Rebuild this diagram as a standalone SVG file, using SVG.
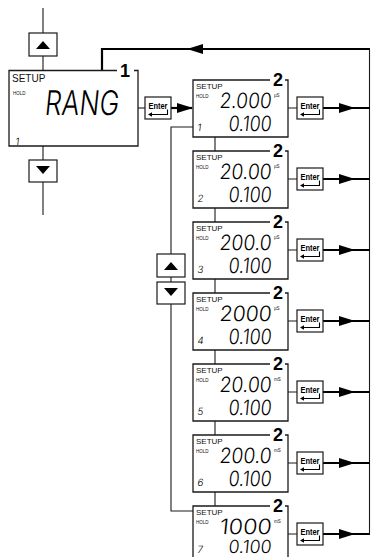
<svg xmlns="http://www.w3.org/2000/svg" xmlns:xlink="http://www.w3.org/1999/xlink" width="371" height="557" viewBox="0 0 371 557">
<style>
.frame{fill:#fff;stroke:#1a1a1a;stroke-width:1.3}
.line{fill:none;stroke:#1a1a1a;stroke-width:1.1}
.thick{fill:none;stroke:#000;stroke-width:2.2}
.btn{fill:#fff;stroke:#1a1a1a;stroke-width:1.2}
.tri{fill:#000}
.setup{font-family:"Liberation Sans",Arial,sans-serif;font-size:8px;fill:#111}
.setup1{font-family:"Liberation Sans",Arial,sans-serif;font-size:10px;fill:#111}
.hold{font-family:"Liberation Sans",Arial,sans-serif;font-size:4.5px;fill:#111}
.seg{font-family:Inter,"DejaVu Sans",sans-serif;font-weight:300;fill:#000}
.idx{font-family:Inter,"DejaVu Sans",sans-serif;font-weight:300;font-size:10px;fill:#000}
.num{font-family:"Liberation Sans",Arial,sans-serif;font-weight:bold;font-size:18px;fill:#000}
.enter{font-family:"Liberation Sans",Arial,sans-serif;font-weight:bold;font-size:8.5px;fill:#000}
.unit{font-family:"Liberation Sans",Arial,sans-serif;font-size:4.5px;fill:#111}
</style>
<defs>
<polygon id="arR" points="-8,-5 8,0 -8,5" fill="#000"/>
<polygon id="arL" points="8,-5 -8,0 8,5" fill="#000"/>
<g id="enterKey">
<rect class="btn" x="0" y="0" width="26" height="22"/>
<text class="enter" x="3.5" y="11.5" textLength="19" lengthAdjust="spacingAndGlyphs">Enter</text>
<path d="M22.5,12.5 V17.5 H6" fill="none" stroke="#000" stroke-width="1.1"/>
<polygon points="3,17.5 7,15.3 7,19.7" fill="#000"/>
</g>
</defs>
<rect width="371" height="557" fill="#fff"/>

<g id="connectors">
<path class="line" d="M43,8 V33 M43,56 V70 M43,146 V160 M43,182 V215"/>
<path class="line" d="M138,108 H145"/>
<path class="thick" d="M171,108 H192"/>
<use xlink:href="#arR" x="185" y="108"/>
<path class="thick" d="M102,70 V49 H370"/>
<use xlink:href="#arL" x="195" y="49"/>
<path class="line" d="M369.5,49 V534"/>
<path class="line" d="M193,127 H171 V511 H193"/>
<path class="line" d="M215,137 V151 M215,208 V222 M215,279 V293 M215,350 V364 M215,421 V435 M215,492 V506"/>
<path class="line" d="M288,108 H297 M288,179 H297 M288,250 H297 M288,321 H297 M288,392 H297 M288,463 H297 M288,534 H297"/>
<path class="thick" d="M323,108 H370 M323,179 H370 M323,250 H370 M323,321 H370 M323,392 H370 M323,463 H370 M323,534 H370"/>
<use xlink:href="#arR" x="347" y="108"/>
<use xlink:href="#arR" x="347" y="179"/>
<use xlink:href="#arR" x="347" y="250"/>
<use xlink:href="#arR" x="347" y="321"/>
<use xlink:href="#arR" x="347" y="392"/>
<use xlink:href="#arR" x="347" y="463"/>
<use xlink:href="#arR" x="347" y="534"/>
</g>

<g id="btn-up-left">
<rect class="btn" x="29" y="33" width="28" height="23"/>
<polygon class="tri" points="36,49 50,49 43,41"/>
</g>
<g id="btn-down-left">
<rect class="btn" x="29" y="160" width="28" height="22"/>
<polygon class="tri" points="36,166 50,166 43,174"/>
</g>

<g id="display-1">
<path class="frame" d="M117,70.5 H9 V146 H138 V70.5 H134"/>
<text class="num" x="120" y="77">1</text>
<text class="setup1" x="12" y="82">SETUP</text>
<text class="hold" x="13" y="95">HOLD</text>
<text class="seg" x="0" y="0" font-size="34" transform="translate(44,115) skewX(-6)" textLength="74" lengthAdjust="spacingAndGlyphs">RANG</text>
<text class="idx" x="0" y="0" transform="translate(15,145) skewX(-8)">1</text>
</g>

<g id="enter-1"><use xlink:href="#enterKey" x="145" y="97"/></g>

<g id="btn-up-mid">
<rect class="btn" x="157" y="254" width="28" height="23"/>
<polygon class="tri" points="164,270 178,270 171,262"/>
</g>
<g id="btn-down-mid">
<rect class="btn" x="157" y="282" width="28" height="22"/>
<polygon class="tri" points="164,288 178,288 171,296"/>
</g>

<g id="range-1" transform="translate(0,80)">
<path class="frame" d="M270,0 H193 V57 H288 V0 H285"/>
<text class="num" x="273" y="6">2</text>
<text class="setup" x="196" y="9">SETUP</text>
<text class="hold" x="196" y="18">HOLD</text>
<text class="seg" font-size="21" x="0" y="0" transform="translate(219,28) skewX(-6)" textLength="52" lengthAdjust="spacingAndGlyphs">2.000</text>
<text class="unit" x="274" y="17">µS</text>
<text class="seg" font-size="21" x="0" y="0" transform="translate(228,51) skewX(-6)" textLength="43" lengthAdjust="spacingAndGlyphs">0.100</text>
<text class="idx" x="0" y="0" transform="translate(197,51) skewX(-8)">1</text>
</g>
<g id="enter-r1"><use xlink:href="#enterKey" x="297" y="97"/></g>

<g id="range-2" transform="translate(0,151)">
<path class="frame" d="M270,0 H193 V57 H288 V0 H285"/>
<text class="num" x="273" y="6">2</text>
<text class="setup" x="196" y="9">SETUP</text>
<text class="hold" x="196" y="18">HOLD</text>
<text class="seg" font-size="21" x="0" y="0" transform="translate(219,28) skewX(-6)" textLength="52" lengthAdjust="spacingAndGlyphs">20.00</text>
<text class="unit" x="274" y="17">µS</text>
<text class="seg" font-size="21" x="0" y="0" transform="translate(228,51) skewX(-6)" textLength="43" lengthAdjust="spacingAndGlyphs">0.100</text>
<text class="idx" x="0" y="0" transform="translate(197,51) skewX(-8)">2</text>
</g>
<g id="enter-r2"><use xlink:href="#enterKey" x="297" y="168"/></g>

<g id="range-3" transform="translate(0,222)">
<path class="frame" d="M270,0 H193 V57 H288 V0 H285"/>
<text class="num" x="273" y="6">2</text>
<text class="setup" x="196" y="9">SETUP</text>
<text class="hold" x="196" y="18">HOLD</text>
<text class="seg" font-size="21" x="0" y="0" transform="translate(219,28) skewX(-6)" textLength="52" lengthAdjust="spacingAndGlyphs">200.0</text>
<text class="unit" x="274" y="17">µS</text>
<text class="seg" font-size="21" x="0" y="0" transform="translate(228,51) skewX(-6)" textLength="43" lengthAdjust="spacingAndGlyphs">0.100</text>
<text class="idx" x="0" y="0" transform="translate(197,51) skewX(-8)">3</text>
</g>
<g id="enter-r3"><use xlink:href="#enterKey" x="297" y="239"/></g>

<g id="range-4" transform="translate(0,293)">
<path class="frame" d="M270,0 H193 V57 H288 V0 H285"/>
<text class="num" x="273" y="6">2</text>
<text class="setup" x="196" y="9">SETUP</text>
<text class="hold" x="196" y="18">HOLD</text>
<text class="seg" font-size="21" x="0" y="0" transform="translate(219,28) skewX(-6)" textLength="52" lengthAdjust="spacingAndGlyphs">2000</text>
<text class="unit" x="274" y="17">µS</text>
<text class="seg" font-size="21" x="0" y="0" transform="translate(228,51) skewX(-6)" textLength="43" lengthAdjust="spacingAndGlyphs">0.100</text>
<text class="idx" x="0" y="0" transform="translate(197,51) skewX(-8)">4</text>
</g>
<g id="enter-r4"><use xlink:href="#enterKey" x="297" y="310"/></g>

<g id="range-5" transform="translate(0,364)">
<path class="frame" d="M270,0 H193 V57 H288 V0 H285"/>
<text class="num" x="273" y="6">2</text>
<text class="setup" x="196" y="9">SETUP</text>
<text class="hold" x="196" y="18">HOLD</text>
<text class="seg" font-size="21" x="0" y="0" transform="translate(219,28) skewX(-6)" textLength="52" lengthAdjust="spacingAndGlyphs">20.00</text>
<text class="unit" x="274" y="17">mS</text>
<text class="seg" font-size="21" x="0" y="0" transform="translate(228,51) skewX(-6)" textLength="43" lengthAdjust="spacingAndGlyphs">0.100</text>
<text class="idx" x="0" y="0" transform="translate(197,51) skewX(-8)">5</text>
</g>
<g id="enter-r5"><use xlink:href="#enterKey" x="297" y="381"/></g>

<g id="range-6" transform="translate(0,435)">
<path class="frame" d="M270,0 H193 V57 H288 V0 H285"/>
<text class="num" x="273" y="6">2</text>
<text class="setup" x="196" y="9">SETUP</text>
<text class="hold" x="196" y="18">HOLD</text>
<text class="seg" font-size="21" x="0" y="0" transform="translate(219,28) skewX(-6)" textLength="52" lengthAdjust="spacingAndGlyphs">200.0</text>
<text class="unit" x="274" y="17">mS</text>
<text class="seg" font-size="21" x="0" y="0" transform="translate(228,51) skewX(-6)" textLength="43" lengthAdjust="spacingAndGlyphs">0.100</text>
<text class="idx" x="0" y="0" transform="translate(197,51) skewX(-8)">6</text>
</g>
<g id="enter-r6"><use xlink:href="#enterKey" x="297" y="452"/></g>

<g id="range-7" transform="translate(0,506)">
<path class="frame" d="M270,0 H193 V57 H288 V0 H285"/>
<text class="num" x="273" y="6">2</text>
<text class="setup" x="196" y="9">SETUP</text>
<text class="hold" x="196" y="18">HOLD</text>
<text class="seg" font-size="21" x="0" y="0" transform="translate(219,28) skewX(-6)" textLength="52" lengthAdjust="spacingAndGlyphs">1000</text>
<text class="unit" x="274" y="17">mS</text>
<text class="seg" font-size="18" x="0" y="0" transform="translate(228,46.5) skewX(-6)" textLength="43" lengthAdjust="spacingAndGlyphs">0.100</text>
<text class="idx" x="0" y="0" transform="translate(197,46.5) skewX(-8)">7</text>
</g>
<g id="enter-r7"><use xlink:href="#enterKey" x="297" y="523"/></g>
</svg>
